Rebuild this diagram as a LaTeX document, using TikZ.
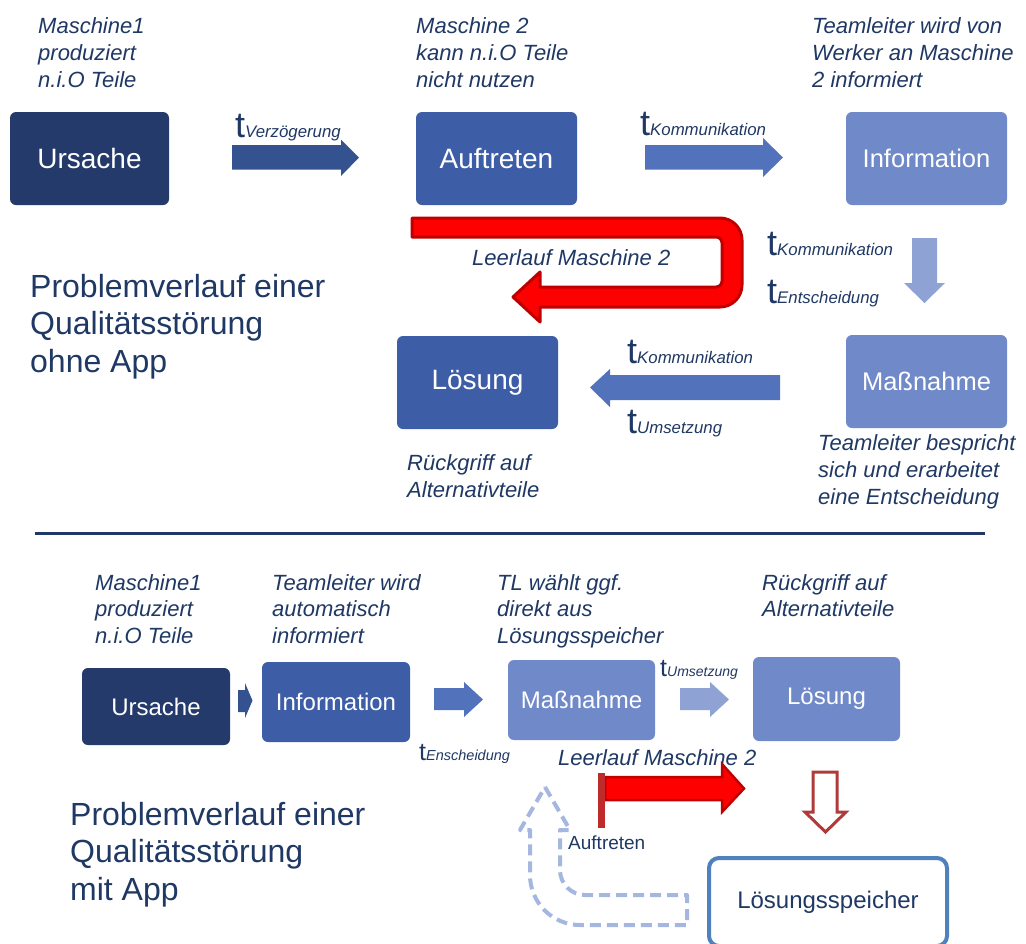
\documentclass[tikz,border=0pt]{standalone}
\usepackage{fontspec}
\setmainfont{Liberation Sans}
\definecolor{navy}{HTML}{1F3864}
\definecolor{cA}{HTML}{243A6B}
\definecolor{cB}{HTML}{3D5DA7}
\definecolor{cC}{HTML}{7089C9}
\definecolor{arA}{HTML}{34528F}
\definecolor{arB}{HTML}{5272BC}
\definecolor{arC}{HTML}{8FA2D4}
\definecolor{redfill}{HTML}{FF0000}
\definecolor{redline}{HTML}{C00000}
\definecolor{dashblue}{HTML}{A5B7E0}
\definecolor{frameblue}{HTML}{4F81BD}
\definecolor{barred}{HTML}{BE2B2B}
\definecolor{outred}{HTML}{B03A3A}
\newcommand{\lns}[1]{\begin{tabular}[t]{@{}l@{}}#1\end{tabular}}
\newcommand{\tlab}[3]{{\fontsize{#1}{#1}\selectfont t}{\fontsize{#2}{#2}\itshape\selectfont #3}}
\begin{document}
\begin{tikzpicture}[x=1pt,y=-1pt,
  box/.style={rounded corners=6pt, inner sep=0pt, text=white},
  bigbox/.style={box, minimum width=161pt, minimum height=93pt},
  smallbox/.style={box, minimum width=148pt, minimum height=80pt, font=\fontsize{24}{28}\selectfont},
  captxt/.style={inner sep=0pt, text=navy, anchor=base west, font=\fontsize{22}{27}\itshape\selectfont},
  bcaptxt/.style={inner sep=0pt, text=navy, anchor=base west, font=\fontsize{22}{26.5}\itshape\selectfont},
  headtxt/.style={inner sep=0pt, text=navy, anchor=base west, font=\fontsize{32}{37.5}\selectfont},
  tlabel/.style={inner sep=0pt, text=navy, anchor=base west}
]
\useasboundingbox (0,0) rectangle (1026,943);
\fill[white] (0,0) rectangle (1026,943);

% ---------- top part ----------
\node[bigbox, fill=cA, minimum width=159pt, font=\fontsize{28}{34}\selectfont] (u1) at (89.5,158.5) {Ursache};
\node[bigbox, fill=cB, font=\fontsize{28}{34}\selectfont] (a1) at (496.5,158.5) {Auftreten};
\node[bigbox, fill=cC, font=\fontsize{25.5}{30}\selectfont] (i1) at (926.5,158.5) {Information};
\node[bigbox, fill=cC, font=\fontsize{25.5}{30}\selectfont] (m1) at (926.5,381.5) {Maßnahme};
\node[bigbox, fill=cB, font=\fontsize{28}{34}\selectfont] (l1) at (477.5,382.5) {Lösung};

% block arrows
\fill[arA] (232,145) -- (341,145) -- (341,139.5) -- (359,157.5) -- (341,176) -- (341,169.5) -- (232,169.5) -- cycle;
\fill[arB] (645,145) -- (763,145) -- (763,138) -- (783,157.5) -- (763,177) -- (763,169.5) -- (645,169.5) -- cycle;
\fill[arC] (912,238) -- (937,238) -- (937,283) -- (945,283) -- (924.5,303) -- (904,283) -- (912,283) -- cycle;
\fill[arB] (780,375) -- (610,375) -- (610,369) -- (590,387.5) -- (610,407) -- (610,400) -- (780,400) -- cycle;

% red U-turn arrow
\draw[line width=3pt, draw=redline, fill=redfill, line join=round]
  (412,218) [rounded corners=22pt] -- (742,218) -- (742,307) [sharp corners] -- (540,307) -- (540,322) -- (513,297) -- (540,272) -- (540,287)
  [rounded corners=6pt] -- (722,287) -- (722,237) [sharp corners] -- (412,237) -- cycle;

% t labels
\node[tlabel] (tv) at (235,137) {\tlab{36}{16.8}{Verzögerung}};
\node[tlabel] (tk1) at (640,135) {\tlab{36}{16.8}{Kommunikation}};
\node[tlabel] (tk2) at (767,255) {\tlab{36}{16.8}{Kommunikation}};
\node[tlabel] (te1) at (767,303) {\tlab{36}{16.8}{Entscheidung}};
\node[tlabel] (tk3) at (627,363) {\tlab{36}{16.8}{Kommunikation}};
\node[tlabel] (tu1) at (627,433) {\tlab{36}{16.8}{Umsetzung}};

% captions
\node[captxt] (c1) at (38,33) {\lns{Maschine1\\produziert\\n.i.O Teile}};
\node[captxt] (c2) at (416,33) {\lns{Maschine 2\\kann n.i.O Teile\\nicht nutzen}};
\node[captxt] (c3) at (812,33) {\lns{Teamleiter wird von\\Werker an Maschine\\2 informiert}};
\node[captxt] (c4) at (818,450) {\lns{Teamleiter bespricht\\sich und erarbeitet\\eine Entscheidung}};
\node[captxt] (c5) at (407,470) {\lns{Rückgriff auf\\Alternativteile}};
\node[captxt] (lm1) at (472,265) {Leerlauf Maschine 2};

\node[headtxt] (h1) at (30,297) {\lns{Problemverlauf einer\\Qualitätsstörung\\ohne App}};

% separator
\draw[navy, line width=3pt] (35,533) -- (985,533);

% ---------- bottom part ----------
\node[smallbox, fill=cA, minimum height=77pt] (u2) at (156,706.5) {Ursache};
\node[smallbox, fill=cB] (i2) at (336,702) {Information};
\node[smallbox, fill=cC, minimum width=147pt] (m2) at (581.5,700) {Maßnahme};
\node[smallbox, fill=cC, minimum width=147pt, minimum height=84pt] (l2) at (826.5,699) {Lösung};

\fill[arA] (238,690) -- (245,690) -- (245,683) -- (252.5,700.5) -- (245,718) -- (245,712) -- (238,712) -- cycle;
\fill[arB] (434,688) -- (464,688) -- (464,682) -- (483,699.5) -- (464,717) -- (464,710) -- (434,710) -- cycle;
\fill[arC] (680,688) -- (710,688) -- (710,682) -- (729,699.5) -- (710,717) -- (710,710) -- (680,710) -- cycle;

\node[tlabel] (tu2) at (660,676) {\tlab{25}{14}{Umsetzung}};
\node[tlabel] (te2) at (419,760) {\tlab{25}{14.5}{Enscheidung}};

\node[bcaptxt] (d1) at (95,590) {\lns{Maschine1\\produziert\\n.i.O Teile}};
\node[bcaptxt] (d2) at (272,590) {\lns{Teamleiter wird\\automatisch\\informiert}};
\node[bcaptxt] (d3) at (497,590) {\lns{TL wählt ggf.\\direkt aus\\Lösungsspeicher}};
\node[bcaptxt] (d4) at (762,590) {\lns{Rückgriff auf\\Alternativteile}};
\node[captxt] (lm2) at (558,765) {Leerlauf Maschine 2};

\node[headtxt] (h2) at (70,825) {\lns{Problemverlauf einer\\Qualitätsstörung\\mit App}};

% dashed return arrow
\draw[dashblue, line width=4pt, dash pattern=on 11pt off 6pt, line join=round]
  (545,787) -- (570,830) -- (560,830) [rounded corners=25pt] -- (560,895) [sharp corners] -- (687,895) -- (687,925)
  [rounded corners=50pt] -- (530,925) [sharp corners] -- (530,830) -- (520,830) -- cycle;

% red Leerlauf arrow
\draw[line width=2.5pt, draw=redline, fill=redfill, line join=miter]
  (605,777) -- (722,777) -- (722,764) -- (744,788.5) -- (722,812) -- (722,800) -- (605,800) -- cycle;
\fill[barred] (598,773) rectangle (605,828);
\node[tlabel, font=\fontsize{19}{22}\selectfont] (auf) at (568,849) {Auftreten};

% outlined down arrow
\draw[outred, line width=3pt, fill=white, line join=miter]
  (813,772) -- (837,772) -- (837,812) -- (846,812) -- (825.5,832) -- (805,812) -- (813,812) -- cycle;

\node[draw=frameblue, line width=4pt, rounded corners=10pt, minimum width=238pt, minimum height=88pt,
      inner sep=0pt, text=navy, font=\fontsize{24}{28}\selectfont] (ls) at (828,902) {Lösungsspeicher};
\end{tikzpicture}
\end{document}
